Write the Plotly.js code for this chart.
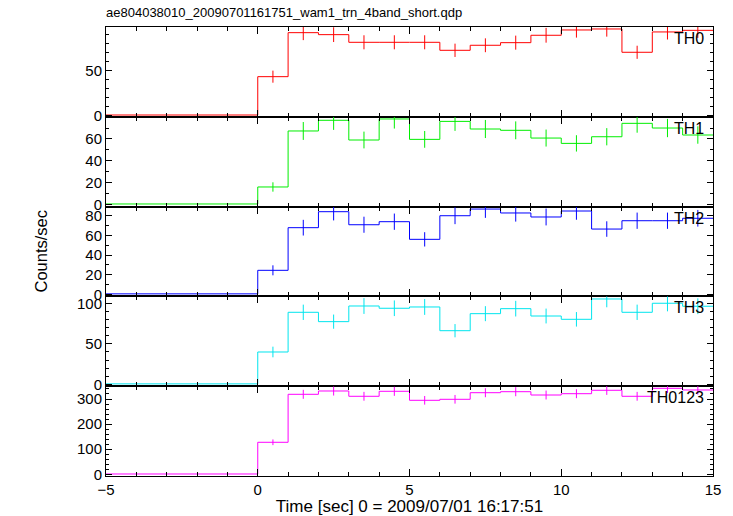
<!DOCTYPE html>
<html>
<head>
<meta charset="utf-8">
<script src="https://cdn.plot.ly/plotly-3.0.1.min.js"></script>
<style>html,body{margin:0;padding:0;background:#fff;}#chart{width:733px;height:516px;}</style>
</head>
<body>
<div id="chart"></div>
<script>
// ---- data ----
const timeCenters = [-4.5, -3.5, -2.5, -1.5, -0.5, 0.5, 1.5, 2.5, 3.5, 4.5, 5.5, 6.5, 7.5, 8.5, 9.5, 10.5, 11.5, 12.5, 13.5, 14.5];
const binHalfWidth = 0.5;

const th0 = [0.3, 0.3, 0.3, 0.3, 0.3, 42.9, 91.8, 89.6, 81.1, 81.1, 81.1, 72.2, 77.8, 80.7, 88.9, 94.8, 95.9, 70.0, 92.6, 94.4];
const th0Err = [0, 0, 0, 0, 0, 6.7, 8.3, 8.2, 7.8, 7.8, 7.8, 7.4, 7.7, 7.8, 8.2, 8.5, 8.5, 7.3, 8.4, 8.4];

const th1 = [0.3, 0.3, 0.3, 0.3, 0.3, 15.9, 67.3, 77.1, 59.0, 78.3, 59.6, 76.1, 69.1, 67.9, 60.8, 55.9, 62.0, 74.3, 70.0, 63.6];
const th1Err = [0, 0, 0, 0, 0, 4.3, 8.2, 8.8, 7.7, 8.8, 7.7, 8.7, 8.3, 8.2, 7.8, 7.5, 7.9, 8.6, 8.4, 8.0];

const th2 = [0.5, 0.5, 0.5, 0.5, 0.5, 24.5, 68.0, 84.3, 71.0, 74.1, 56.1, 80.2, 87.0, 83.0, 78.9, 85.0, 66.6, 75.1, 75.1, 77.6];
const th2Err = [0, 0, 0, 0, 0, 5.1, 8.0, 8.9, 8.2, 8.3, 7.3, 8.6, 9.0, 8.8, 8.6, 8.9, 7.9, 8.3, 8.3, 8.5];

const th3 = [0.5, 0.5, 0.5, 0.5, 0.5, 40.0, 89.2, 77.6, 97.0, 94.2, 95.8, 66.4, 87.5, 93.7, 84.6, 80.5, 105.7, 89.2, 100.4, 96.7];
const th3Err = [0, 0, 0, 0, 0, 6.6, 9.5, 8.8, 9.8, 9.7, 9.8, 8.2, 9.3, 9.7, 9.2, 9.0, 10.3, 9.5, 10.0, 9.8];

const th0123 = [1.2, 1.2, 1.2, 1.2, 1.2, 127.5, 318.7, 331.9, 310.8, 330.7, 294.8, 298.8, 325.1, 329.1, 315.9, 321.1, 334.7, 310.8, 342.6, 335.9];
const th0123Err = [0, 0, 0, 0, 0, 11.3, 17.9, 18.2, 17.6, 18.2, 17.2, 17.3, 18.0, 18.1, 17.8, 17.9, 18.3, 17.6, 18.5, 18.3];

const panelNames = ["TH0", "TH1", "TH2", "TH3", "TH0123"];
const panelValues = [th0, th1, th2, th3, th0123];
const panelErrors = [th0Err, th1Err, th2Err, th3Err, th0123Err];
const panelColors = ["#ff0000", "#00ee00", "#0000ff", "#00e5ee", "#ff00ff"];
const panelRanges = [[-1.7, 98.1], [-2.1, 80.3], [-2.1, 89.5], [-2.4, 108.9], [-6.8, 351]];
const panelTicks = [[0, 50], [0, 20, 40, 60], [0, 20, 40, 60, 80], [0, 50, 100], [0, 100, 200, 300]];
const panelMinor = [10, 10, 10, 10, 20];
const xRange = [-5, 15];
const xTickVals = [-5, 0, 5, 10, 15];

const titleText = "ae804038010_20090701161751_wam1_trn_4band_short.qdp";
const xTitleText = "Time [sec] 0 = 2009/07/01 16:17:51";
const yTitleText = "Counts/sec";

// ---- build ----
const FONT = "Liberation Sans, Arial, Helvetica, sans-serif";
const traces = [];
const layout = {
  width: 733, height: 516,
  margin: {l: 106, r: 20, t: 27, b: 40},
  paper_bgcolor: "#fff", plot_bgcolor: "#fff",
  showlegend: false,
  font: {family: FONT, size: 15, color: "#000"},
  title: {text: titleText, x: 106/733, xanchor: "left", xref: "container",
          y: 1 - 12/516, yanchor: "middle", yref: "container",
          font: {family: FONT, size: 13, color: "#000"}},
  annotations: []
};

const n = panelNames.length;
for (let i = 0; i < n; i++) {
  const sfx = i === 0 ? "" : String(i + 1);
  const xa = "x" + sfx, ya = "y" + sfx;
  const vals = panelValues[i];
  // step outline from bin edges
  const sx = [], sy = [];
  for (let k = 0; k < timeCenters.length; k++) {
    sx.push(timeCenters[k] - binHalfWidth); sy.push(vals[k]);
  }
  sx.push(timeCenters[timeCenters.length - 1] + binHalfWidth); sy.push(vals[vals.length - 1]);
  traces.push({x: sx, y: sy, xaxis: xa, yaxis: ya, type: "scatter", mode: "lines",
               line: {shape: "hv", color: panelColors[i], width: 1}, hoverinfo: "skip"});
  traces.push({x: timeCenters, y: vals, xaxis: xa, yaxis: ya, type: "scatter", mode: "markers",
               marker: {size: 1, color: panelColors[i], opacity: 0},
               error_y: {type: "data", array: panelErrors[i], visible: true, width: 0, thickness: 1, color: panelColors[i]}});

  const top = 1 - i / n, bot = 1 - (i + 1) / n;
  layout["yaxis" + sfx] = {
    domain: [bot, top], anchor: xa, range: panelRanges[i],
    tickmode: "array", tickvals: panelTicks[i],
    ticks: "inside", ticklen: 6, tickwidth: 1, tickcolor: "#000",
    minor: {tickmode: "linear", tick0: 0, dtick: panelMinor[i], ticks: "inside", ticklen: 3, tickcolor: "#000", showgrid: false},
    showline: true, linecolor: "#000", linewidth: 1, mirror: "allticks",
    showgrid: false, zeroline: false,
    tickfont: {family: FONT, size: 15, color: "#000"}
  };
  const isBottom = i === n - 1;
  layout["xaxis" + sfx] = {
    domain: [0, 1], anchor: ya, range: xRange,
    tickmode: "array", tickvals: xTickVals,
    ticks: "inside", ticklen: 7, tickwidth: 1, tickcolor: "#000",
    minor: {tickmode: "linear", tick0: 0, dtick: 1, ticks: "inside", ticklen: 4, tickcolor: "#000", showgrid: false},
    showline: true, linecolor: "#000", linewidth: 1, mirror: "allticks",
    showgrid: false, zeroline: false, showticklabels: isBottom,
    tickfont: {family: FONT, size: 15, color: "#000"}
  };
  if (isBottom) {
    layout["xaxis" + sfx].title = {text: xTitleText, standoff: 0, font: {family: FONT, size: 17, color: "#000"}};
  }
  layout.annotations.push({
    text: panelNames[i], xref: "paper", x: 1 - 7/607, xanchor: "right",
    yref: ya + " domain", y: 1, yanchor: "top", yshift: -1, showarrow: false,
    font: {family: FONT, size: 16, color: "#000"}
  });
}
layout.annotations.push({
  text: yTitleText, textangle: -90, xref: "paper", x: (40 - 106)/607, xanchor: "center",
  yref: "paper", y: 0.5, yanchor: "middle", showarrow: false,
  font: {family: FONT, size: 16.5, color: "#000"}
});

Plotly.newPlot("chart", traces, layout, {staticPlot: true, displayModeBar: false});
</script>
</body>
</html>
